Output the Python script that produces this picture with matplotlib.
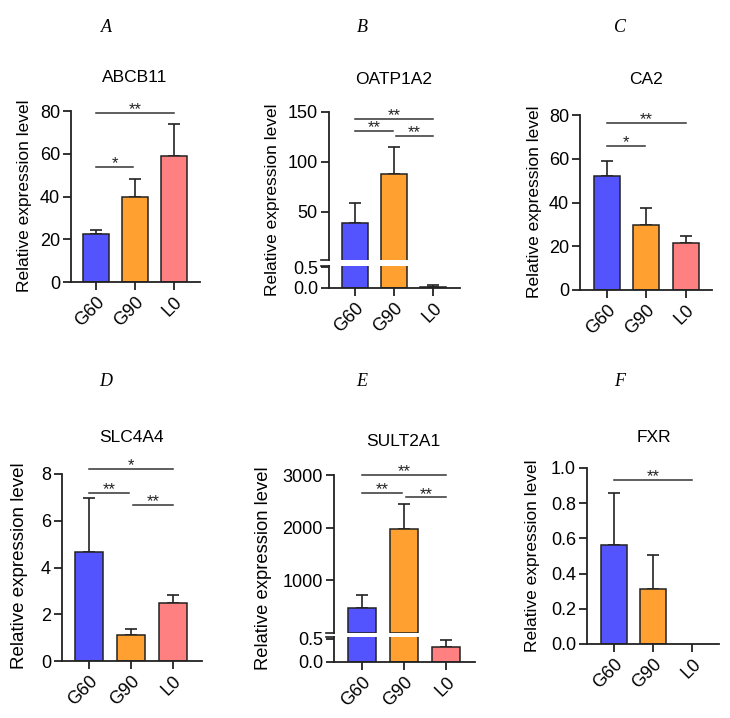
import matplotlib
matplotlib.use("Agg")
import matplotlib.pyplot as plt
import numpy as np

plt.rcParams['font.family'] = ['Liberation Sans', 'DejaVu Sans']

groups = ["G60", "G90", "L0"]
colors = ["#5454FF", "#FFA030", "#FF8080"]

abcb11_mean = [22.5, 39.8, 59.0]
abcb11_top = [24.5, 48.0, 74.0]
abcb11_sig = [(0, 1, 54, "*"), (0, 2, 79, "**")]

oatp_mean = [39.0, 88.0, 0.03]
oatp_top = [59.0, 115.0, 0.06]
oatp_sig = [(0, 2, 143, "**"), (0, 1, 131, "**"), (1, 2, 126, "**")]

ca2_mean = [52.0, 29.7, 21.4]
ca2_top = [59.0, 37.6, 24.8]
ca2_sig = [(0, 1, 66, "*"), (0, 2, 76.5, "**")]

slc_mean = [4.68, 1.13, 2.50]
slc_top = [6.96, 1.36, 2.84]
slc_sig = [(0, 2, 8.2, "*"), (0, 1, 7.18, "**"), (1, 2, 6.66, "**")]

sult_mean = [470.0, 1980.0, 0.33]
sult_top = [726.0, 2440.0, 0.47]
sult_sig = [(0, 2, 3000, "**"), (0, 1, 2650, "**"), (1, 2, 2573, "**")]

fxr_mean = [0.564, 0.3125, 0.0]
fxr_top = [0.858, 0.506, 0.0]
fxr_sig = [(0, 2, 0.932, "**")]

W, H = 730, 718
fig = plt.figure(figsize=(W / 100, H / 100), dpi=100)

LC = "#222222"
FS = 12.5
TFS = 13


def add_ax(l, r, b, t):
    return fig.add_axes([l / W, 1 - b / H, (r - l) / W, (b - t) / H])


def style(ax, bottom=True):
    for s in ["top", "right"]:
        ax.spines[s].set_visible(False)
    for s in ["left", "bottom"]:
        ax.spines[s].set_color(LC)
        ax.spines[s].set_linewidth(1.3)
    ax.tick_params(axis="y", length=6, width=1.3, color=LC, labelsize=TFS, pad=2)
    ax.tick_params(axis="x", length=6, width=1.3, color=LC, labelsize=TFS, pad=2)
    if not bottom:
        ax.spines["bottom"].set_visible(False)
        ax.tick_params(axis="x", bottom=False, labelbottom=False)


def draw_bars(ax, mean, top, width, floor=None):
    x = np.arange(len(groups))
    for i in range(len(groups)):
        if floor is not None and mean[i] <= floor:
            continue
        ax.bar([x[i]], [mean[i]], width=width, color=colors[i], edgecolor="#222222",
               linewidth=1.1, zorder=2)
        if top[i] > mean[i]:
            ax.errorbar([x[i]], [mean[i]], yerr=[[0], [top[i] - mean[i]]], fmt="none",
                        ecolor="#222222", elinewidth=1.2, capsize=4.3, capthick=1.2, zorder=1)


def xticks(ax):
    ax.set_xticks(np.arange(len(groups)))
    ax.set_xticklabels(groups, rotation=45, ha="right", rotation_mode="anchor")


def brackets(ax, sig):
    for a, b, y, s in sig:
        if b - a == 2:
            x0, x1 = a, b
        elif a == 0:
            x0, x1 = a, b - 0.04
        else:
            x0, x1 = a + 0.04, b
        ax.plot([x0, x1], [y, y], color="#333333", lw=1.1, clip_on=False, zorder=3)
        ax.annotate(s, ((x0 + x1) / 2, y), xytext=(0, -3.0), textcoords="offset points",
                    ha="center", va="bottom", fontsize=12, color="#222222",
                    annotation_clip=False)


def break_marks(ax_low, ax_up):
    for ax, yy in [(ax_low, 1.0), (ax_up, 0.0)]:
        ax.plot([-0.06, 0.0], [yy, yy], transform=ax.transAxes,
                color=LC, lw=1.2, clip_on=False)


def ylabel(x_px, y_px, size=FS):
    fig.text(x_px / W, 1 - y_px / H, "Relative expression level", rotation=90,
             rotation_mode="anchor", ha="center", va="bottom", fontsize=size)


def title(x_px, y_px, s):
    fig.text(x_px / W, 1 - y_px / H, s, ha="center", va="center", fontsize=FS)


def panel_label(x_px, y_px, s):
    fig.text(x_px / W, 1 - y_px / H, s, ha="center", va="center", fontsize=13,
             family="Liberation Serif", style="italic")


# ---- A: ABCB11 ----
ax = add_ax(71, 200, 282, 111)
draw_bars(ax, abcb11_mean, abcb11_top, 0.65)
ax.set_ylim(0, 80)
ax.set_yticks([0, 20, 40, 60, 80])
ax.set_xlim(-0.64, 2.67)
xticks(ax)
style(ax)
brackets(ax, abcb11_sig)
ylabel(32, 196, FS)
title(135, 78, "ABCB11")
panel_label(106, 27, "A")

# ---- B: OATP1A2 (broken axis) ----
axl = add_ax(329, 460, 288, 266)
axu = add_ax(329, 460, 260, 112)
draw_bars(axl, oatp_mean, oatp_top, 0.67)
draw_bars(axu, oatp_mean, oatp_top, 0.67, floor=2)
for a in (axl, axu):
    a.set_xlim(-0.67, 2.69)
axl.set_ylim(0, 0.524)
axl.set_yticks([0.0, 0.5])
axl.set_yticklabels(["0.0", "0.5"])
axu.set_ylim(2, 150)
axu.set_yticks([50, 100, 150])
xticks(axl)
style(axl)
style(axu, bottom=False)
brackets(axu, oatp_sig)
break_marks(axl, axu)
ylabel(280, 200, FS)
title(394, 80, "OATP1A2")
panel_label(362, 27, "B")

# ---- C: CA2 ----
ax = add_ax(580, 712, 290, 115)
draw_bars(ax, ca2_mean, ca2_top, 0.66)
ax.set_ylim(0, 80)
ax.set_yticks([0, 20, 40, 60, 80])
ax.set_xlim(-0.68, 2.66)
xticks(ax)
style(ax)
brackets(ax, ca2_sig)
ylabel(542, 202, FS)
title(646, 80, "CA2")
panel_label(620, 27, "C")

# ---- D: SLC4A4 ----
ax = add_ax(62, 202, 661, 474)
draw_bars(ax, slc_mean, slc_top, 0.66)
ax.set_ylim(0, 8)
ax.set_yticks([0, 2, 4, 6, 8])
ax.set_xlim(-0.64, 2.69)
xticks(ax)
style(ax)
brackets(ax, slc_sig)
ylabel(28, 566, 13.5)
title(132, 437, "SLC4A4")
panel_label(106, 382, "D")

# ---- E: SULT2A1 (broken axis) ----
axl = add_ax(334, 475, 662, 637)
axu = add_ax(334, 475, 633, 475)
draw_bars(axl, sult_mean, sult_top, 0.66)
draw_bars(axu, sult_mean, sult_top, 0.66, floor=10)
for a in (axl, axu):
    a.set_xlim(-0.67, 2.69)
axl.set_ylim(0, 0.543)
axl.set_yticks([0.0, 0.5])
axl.set_yticklabels(["0.0", "0.5"])
axu.set_ylim(0, 3000)
axu.set_yticks([1000, 2000, 3000])
xticks(axl)
style(axl)
style(axu, bottom=False)
brackets(axu, sult_sig)
break_marks(axl, axu)
ylabel(272, 568, 13.2)
title(403, 442, "SULT2A1")
panel_label(362, 382, "E")

# ---- F: FXR ----
ax = add_ax(587, 719, 644, 468)
draw_bars(ax, fxr_mean, fxr_top, 0.66, floor=0)
ax.set_ylim(0, 1.0)
ax.set_yticks([0.0, 0.2, 0.4, 0.6, 0.8, 1.0])
ax.set_yticklabels(["0.0", "0.2", "0.4", "0.6", "0.8", "1.0"])
ax.set_xlim(-0.69, 2.69)
xticks(ax)
style(ax)
brackets(ax, fxr_sig)
ylabel(540, 556, FS)
title(654, 437, "FXR")
panel_label(620, 382, "F")

fig.savefig("out.png", dpi=100)
